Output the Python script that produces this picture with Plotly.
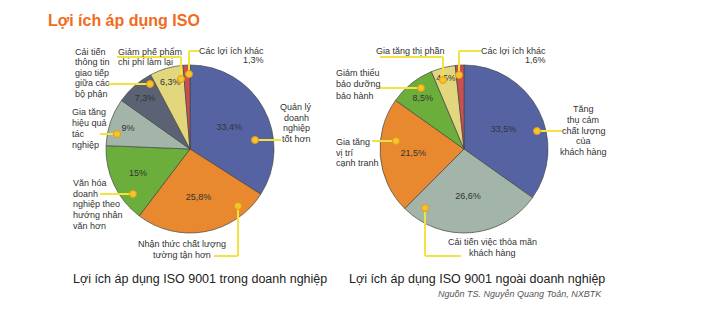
import plotly.graph_objects as go

W, H = 718, 321

# ---- data ----
left_labels = ["Quản lý doanh nghiệp tốt hơn", "Nhận thức chất lượng tường tận hơn",
               "Văn hóa doanh nghiệp theo hướng nhân văn hơn", "Gia tăng hiệu quả tác nghiệp",
               "Cải tiến thông tin giao tiếp giữa các bộ phận", "Giảm phế phẩm chi phí làm lại",
               "Các lợi ích khác"]
left_values = [33.4, 25.8, 15, 9, 7.3, 6.3, 1.3]
left_text = ["33,4%", "25,8%", "15%", "9%", "7,3%", "6,3%", ""]

right_labels = ["Tăng thụ cảm chất lượng của khách hàng", "Cải tiến việc thỏa mãn khách hàng",
                "Gia tăng vị trí cạnh tranh", "Giảm thiểu bảo dưỡng bảo hành",
                "Gia tăng thị phần", "Các lợi ích khác"]
right_values = [33.5, 26.6, 21.5, 8.5, 4.5, 1.6]
right_text = ["33,5%", "26,6%", "21,5%", "8,5%", "4,5%", ""]

left_colors = ["#5563a3", "#e8892f", "#6cae3c", "#a2b5a8", "#5b6273", "#e2d77c", "#c9504f"]
right_colors = ["#5563a3", "#a2b5a8", "#e8892f", "#6cae3c", "#e2d77c", "#c9504f"]

FONT = "Liberation Sans, Arial, sans-serif"


def px(x):
    return x / W


def py(y):
    return 1 - y / H


fig = go.Figure()

for vals, labs, txt, cols, x0, x1 in [
    (left_values, left_labels, left_text, left_colors, 106, 274),
    (right_values, right_labels, right_text, right_colors, 380, 548),
]:
    fig.add_trace(go.Pie(
        labels=labs, values=vals, text=txt,
        textinfo="text", textposition="inside", insidetextorientation="horizontal",
        sort=False, direction="clockwise", rotation=0,
        marker=dict(colors=cols, line=dict(color="rgba(70,70,70,0.7)", width=1)),
        textfont=dict(family=FONT, size=9, color="#333"),
        domain=dict(x=[px(x0), px(x1)], y=[py(233), py(65)]),
        showlegend=False, hoverinfo="label+text",
    ))

ann = []


def text1(x, y, text, anchor="left", size=9, color="#333"):
    ann.append(dict(x=px(x), y=py(y), xref="paper", yref="paper", text=text,
                    showarrow=False, xanchor=anchor, yanchor="middle",
                    font=dict(family=FONT, size=size, color=color)))


def label(x, ys, lines, anchor="left"):
    for yy, t in zip(ys, lines):
        text1(x, yy, t, anchor=anchor)


# title & captions
text1(46, 20, "<b>Lợi ích áp dụng ISO</b>", size=16, color="#f26b1d")
text1(71, 279, "Lợi ích áp dụng ISO 9001 trong doanh nghiệp", size=12.5, color="#222")
text1(347, 279, "Lợi ích áp dụng ISO 9001 ngoài doanh nghiệp", size=12.5, color="#222")
text1(604, 294, "<i>Nguồn TS. Nguyễn Quang Toản, NXBTK</i>", anchor="right", size=9, color="#555")

# left labels
label(73, [52, 62.5, 73, 83.5, 94], ["Cải tiến", "thông tin", "giao tiếp", "giữa các", "bộ phận"])
label(116, [52, 62], ["Giảm phế phẩm", "chi phí làm lại"])
label(266, [51, 60.5], ["Các lợi ích khác", "1,3%"], anchor="right")
label(296, [107, 117.5, 128, 138.5], ["Quản lý", "doanh", "nghiệp", "tốt hơn"], anchor="center")
label(70, [112, 123, 134, 145], ["Gia tăng", "hiệu quả", "tác", "nghiệp"])
label(71, [183, 193.5, 204, 215, 226], ["Văn hóa", "doanh", "nghiệp theo", "hướng nhân", "văn hơn"])
label(182, [244, 254.5], ["Nhận thức chất lượng", "tường tận hơn"], anchor="center")

# right labels
label(374, [51], ["Gia tăng thị phần"])
label(548, [51, 60.5], ["Các lợi ích khác", "1,6%"], anchor="right")
label(334, [73, 84.5, 96], ["Giảm thiểu", "bảo dưỡng", "bảo hành"])
label(583, [109, 120, 130.5, 141, 152], ["Tăng", "thụ cảm", "chất lượng", "của", "khách hàng"],
      anchor="center")
label(334, [142, 153, 163], ["Gia tăng", "vị trí", "cạnh tranh"])
label(492, [242, 252.5], ["Cải tiến việc thỏa mãn", "khách hàng"], anchor="center")

shapes = []
LC = "#f3e23f"


def seg(x0, y0, x1, y1):
    shapes.append(dict(type="line", xref="paper", yref="paper",
                       x0=px(x0), y0=py(y0), x1=px(x1), y1=py(y1),
                       line=dict(color=LC, width=2)))


def dot(x, y, r=3.5):
    shapes.append(dict(type="circle", xref="paper", yref="paper",
                       x0=px(x - r), y0=py(y - r), x1=px(x + r), y1=py(y + r),
                       fillcolor="#f5c62a", line=dict(color="#e59a20", width=1)))


# left leaders
seg(108, 84, 150, 84); dot(150, 84)
seg(117, 57, 181, 57); seg(181, 57, 181, 79); dot(181, 79)
seg(189, 51, 200, 51); seg(189, 51, 189, 74); dot(189, 74)
seg(255, 140, 281, 140); dot(255, 140)
seg(100, 134, 117, 134); dot(117, 134)
seg(100, 194, 133, 194); dot(133, 194)
seg(238, 206, 238, 256); seg(214, 256, 238, 256); dot(238, 206)

# right leaders
seg(380, 57, 443, 57); seg(443, 57, 443, 80); dot(443, 80)
seg(459, 51, 481, 51); seg(459, 51, 459, 75); dot(459, 75)
seg(379, 88, 421, 88); dot(421, 88)
seg(537, 131, 563, 131); dot(537, 131)
seg(372, 141, 396, 141); dot(396, 141)
seg(425, 208, 425, 256); seg(425, 256, 461, 256); dot(425, 208)

fig.update_layout(
    width=W, height=H, margin=dict(l=0, r=0, t=0, b=0),
    paper_bgcolor="white", plot_bgcolor="white",
    annotations=ann, shapes=shapes,
)

fig.write_html("out.html")
